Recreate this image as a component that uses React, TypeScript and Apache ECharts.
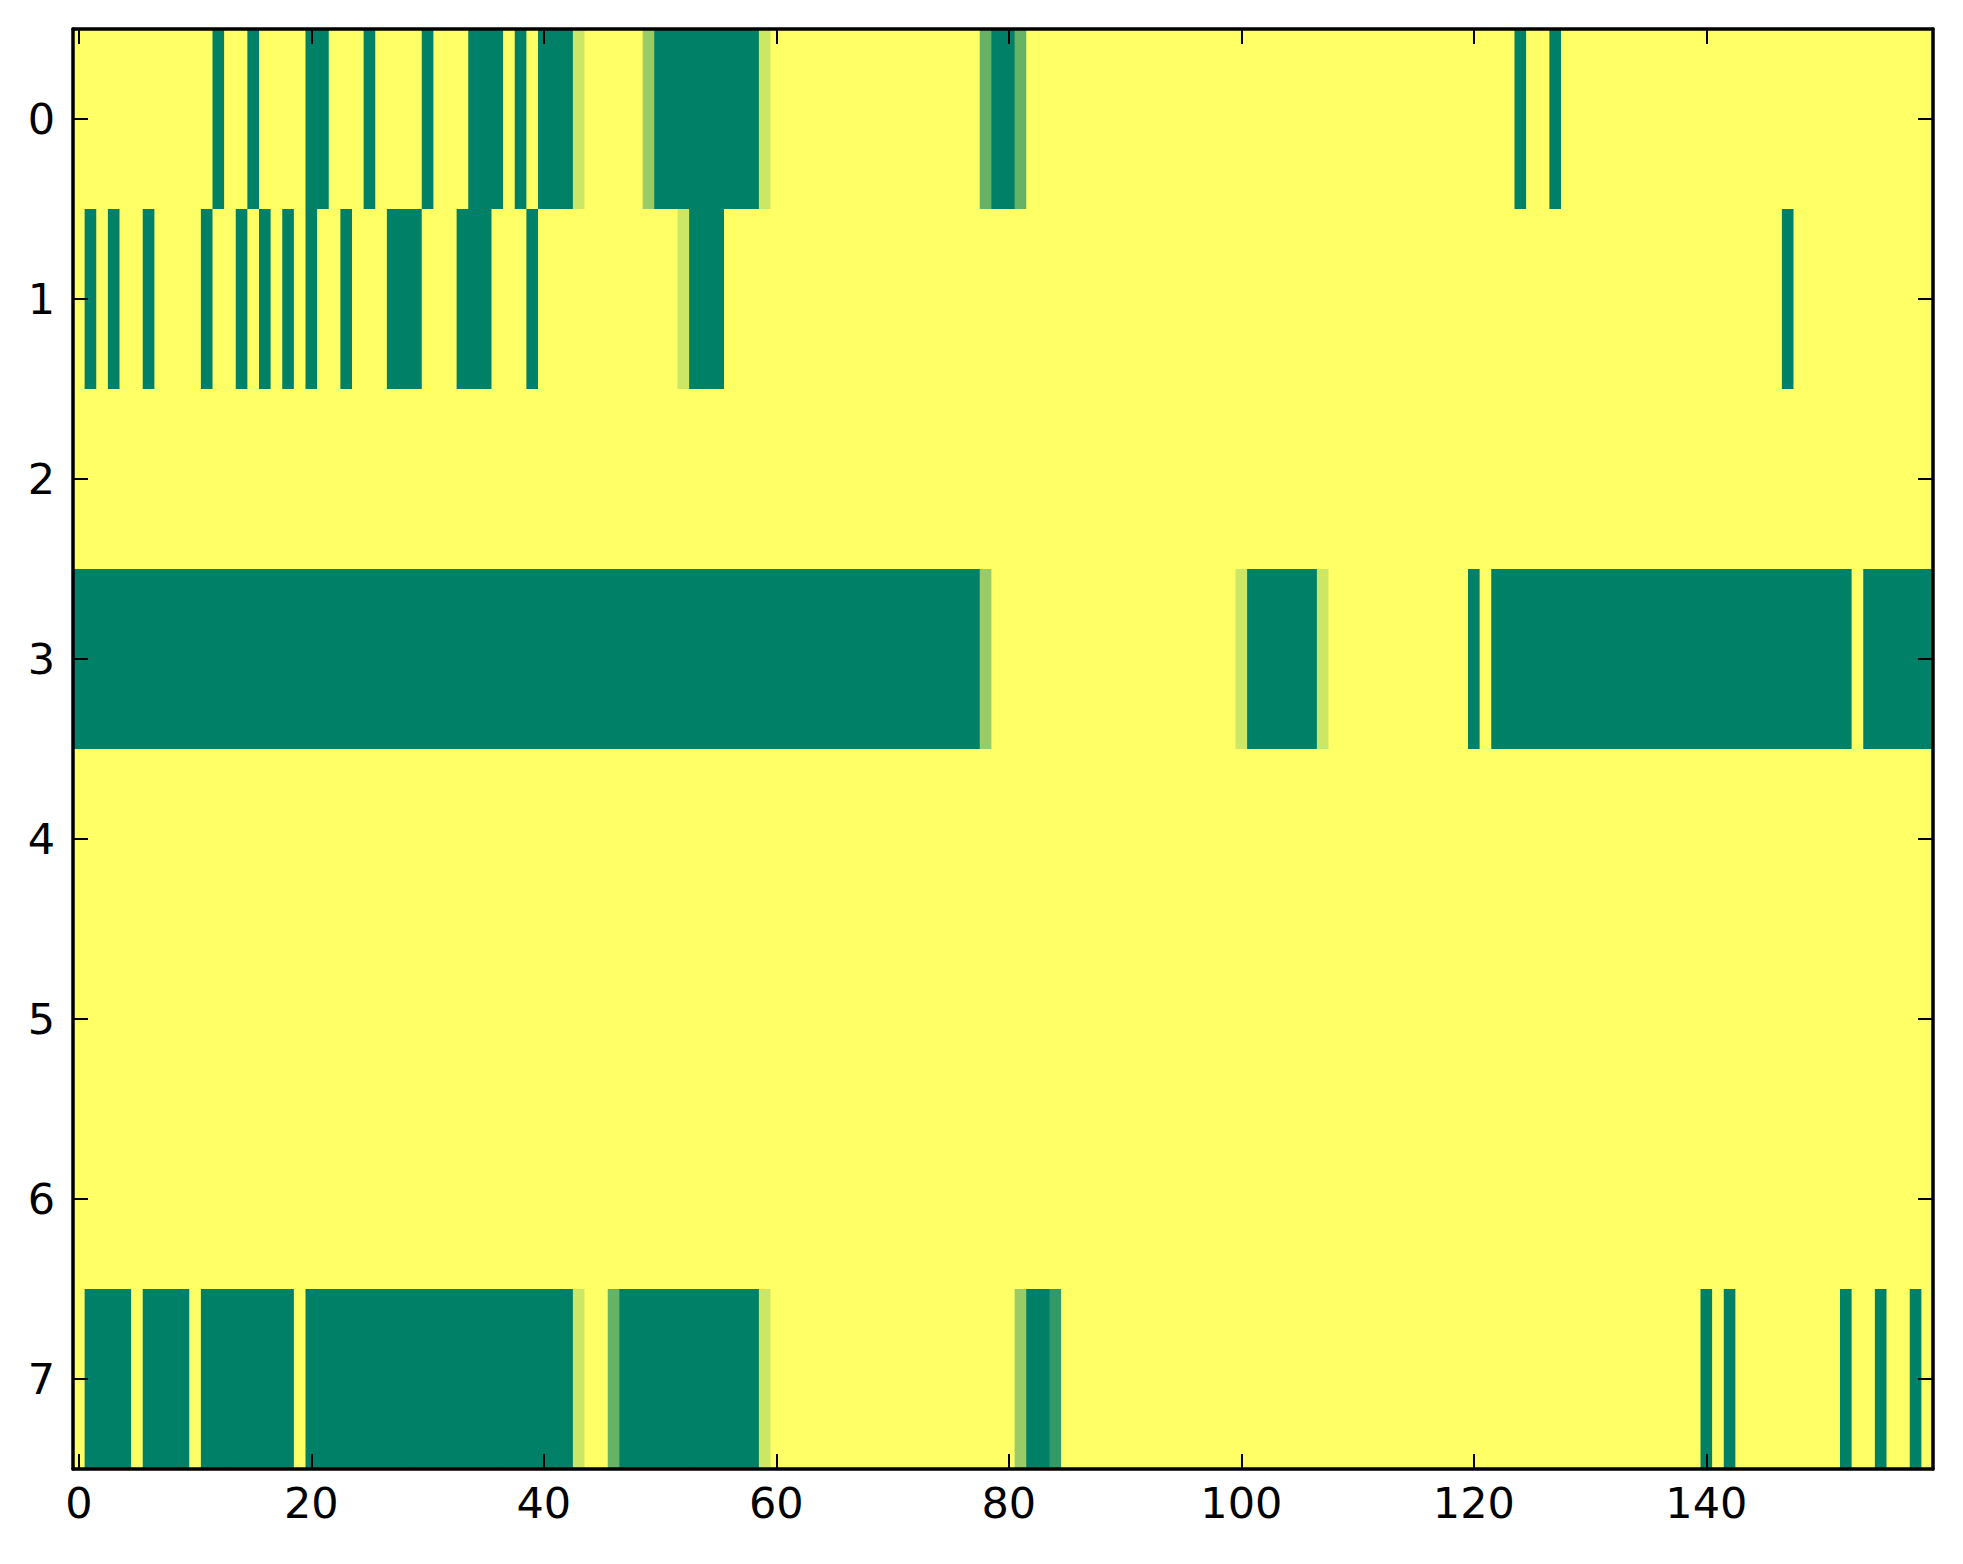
import React, { useEffect, useRef } from "react";
import * as echarts from "echarts";

// number of columns and row labels
const nCols = 160;
const rowLabels = ["0", "1", "2", "3", "4", "5", "6", "7"];
const xTicks = [0, 20, 40, 60, 80, 100, 120, 140];

// rows as runs of [value, count] (1 = yellow, 0 = green)
const row0: number[][] = [
  [1, 12], [0, 1], [1, 2], [0, 1], [1, 4], [0, 2], [1, 3], [0, 1], [1, 4], [0, 1],
  [1, 3], [0, 3], [1, 1], [0, 1], [1, 1], [0, 3], [0.8, 1], [1, 5], [0.6, 1], [0, 9],
  [0.8, 1], [1, 18], [0.4, 1], [0, 2], [0.4, 1], [1, 42], [0, 1], [1, 2], [0, 1], [1, 32],
];
const row1: number[][] = [
  [1, 1], [0, 1], [1, 1], [0, 1], [1, 2], [0, 1], [1, 4], [0, 1], [1, 2], [0, 1],
  [1, 1], [0, 1], [1, 1], [0, 1], [1, 1], [0, 1], [1, 2], [0, 1], [1, 3], [0, 3],
  [1, 3], [0, 3], [1, 3], [0, 1], [1, 12], [0.8, 1], [0, 3], [1, 91], [0, 1], [1, 12],
];
const row2: number[][] = [[1, 160]];
const row3: number[][] = [
  [0, 78], [0.6, 1], [1, 21], [0.8, 1], [0, 6], [0.8, 1], [1, 12], [0, 1], [1, 1],
  [0, 31], [1, 1], [0, 6],
];
const row4: number[][] = [[1, 160]];
const row5: number[][] = [[1, 160]];
const row6: number[][] = [[1, 160]];
const row7: number[][] = [
  [1, 1], [0, 4], [1, 1], [0, 4], [1, 1], [0, 8], [1, 1], [0, 23], [0.8, 1], [1, 2],
  [0.4, 1], [0, 12], [0.8, 1], [1, 21], [0.6, 1], [0, 2], [0.2, 1], [1, 55], [0, 1],
  [1, 1], [0, 1], [1, 9], [0, 1], [1, 2], [0, 1], [1, 2], [0, 1], [1, 1],
];

const rows = [row0, row1, row2, row3, row4, row5, row6, row7];

function expand(runs: number[][]): number[] {
  const out: number[] = [];
  runs.forEach(([v, n]) => {
    for (let i = 0; i < n; i++) out.push(v);
  });
  return out;
}

const xCats: string[] = [];
for (let i = 0; i < nCols; i++) xCats.push(String(i));

const cells: number[][] = [];
rows.forEach((runs, r) => {
  expand(runs).forEach((v, c) => cells.push([c, r, v]));
});

const FONT = "DejaVu Sans";
const showX = (idx: number) => xTicks.includes(idx);

export default function App() {
  const ref = useRef<HTMLDivElement>(null);
  useEffect(() => {
    if (!ref.current) return;
    const chart = echarts.init(ref.current, null, { renderer: "svg" });
    const spine = { show: true, onZero: false, lineStyle: { color: "#000", width: 3.5 } };
    const tickX = {
      show: true, inside: true, length: 15, alignWithLabel: true,
      interval: (i: number) => showX(i),
      lineStyle: { color: "#000", width: 2 },
    };
    const tickY = {
      show: true, inside: true, length: 15, alignWithLabel: true, interval: 0,
      lineStyle: { color: "#000", width: 2 },
    };
    chart.setOption({
      animation: false,
      backgroundColor: "#fff",
      grid: { left: 73, top: 29, width: 1860, height: 1440, containLabel: false },
      visualMap: {
        show: false, type: "continuous", min: 0, max: 1, dimension: 2,
        inRange: { color: ["#008066", "#ffff66"] },
      },
      xAxis: [
        {
          type: "category", data: xCats, position: "bottom", z: 10,
          axisLine: spine, axisTick: tickX,
          axisLabel: {
            interval: (i: number) => showX(i), color: "#000", fontSize: 43,
            fontFamily: FONT, margin: 12,
          },
          splitLine: { show: false },
        },
        {
          type: "category", data: xCats, position: "top", z: 10,
          axisLine: spine, axisTick: tickX, axisLabel: { show: false },
          splitLine: { show: false },
        },
      ],
      yAxis: [
        {
          type: "category", data: rowLabels, inverse: true, position: "left", z: 10,
          axisLine: spine, axisTick: tickY,
          axisLabel: { color: "#000", fontSize: 43, fontFamily: FONT, margin: 18 },
          splitLine: { show: false },
        },
        {
          type: "category", data: rowLabels, inverse: true, position: "right", z: 10,
          axisLine: spine, axisTick: tickY, axisLabel: { show: false },
          splitLine: { show: false },
        },
      ],
      series: [
        {
          type: "custom", xAxisIndex: 0, yAxisIndex: 0, data: cells,
          encode: { x: 0, y: 1 }, clip: true, silent: true,
          renderItem: (params: any, api: any) => {
            const p = api.coord([api.value(0), api.value(1)]);
            const s = api.size([1, 1]);
            return {
              type: "rect",
              shape: {
                x: p[0] - s[0] / 2, y: p[1] - s[1] / 2,
                width: s[0] + 0.8, height: s[1] + 0.8,
              },
              style: { fill: api.visual("color"), stroke: null },
            };
          },
        },
      ],
    });
    return () => chart.dispose();
  }, []);
  return (
    <div
      ref={ref}
      style={{ position: "absolute", left: 0, top: 0, width: 1963, height: 1564 }}
    />
  );
}
